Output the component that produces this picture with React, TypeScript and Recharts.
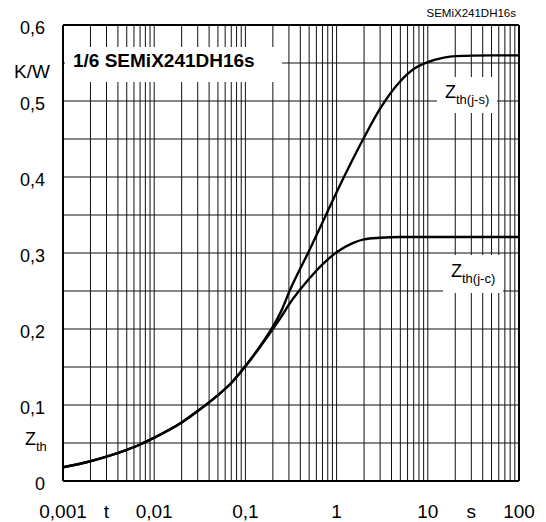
import React from "react";
import { LineChart, Line, XAxis, YAxis, CartesianGrid, ReferenceLine } from "recharts";

// pulse duration t in s
const tValues = [
  0.001, 0.002, 0.003, 0.005, 0.007, 0.01, 0.02, 0.03, 0.05, 0.07, 0.1, 0.15, 0.2, 0.25, 0.3, 0.5, 0.7, 1, 1.5, 2,
  3, 5, 7, 10, 15, 20, 50, 100,
];
// Zth(j-c) in K/W
const zthJC = [
  0.018, 0.026, 0.032, 0.041, 0.048, 0.057, 0.077, 0.092, 0.113, 0.129, 0.151, 0.179, 0.2, 0.217, 0.232, 0.266,
  0.285, 0.301, 0.313, 0.318, 0.32, 0.321, 0.321, 0.321, 0.321, 0.321, 0.321, 0.321,
];
// Zth(j-s) in K/W
const zthJS = [
  0.018, 0.026, 0.032, 0.041, 0.048, 0.057, 0.077, 0.092, 0.113, 0.129, 0.151, 0.18, 0.203, 0.225, 0.248, 0.303,
  0.34, 0.38, 0.423, 0.452, 0.49, 0.526, 0.542, 0.551, 0.557, 0.559, 0.56, 0.56,
];

const xTicks = [
  0.001, 0.002, 0.003, 0.004, 0.005, 0.006, 0.007, 0.008, 0.009,
  0.01, 0.02, 0.03, 0.04, 0.05, 0.06, 0.07, 0.08, 0.09,
  0.1, 0.2, 0.3, 0.4, 0.5, 0.6, 0.7, 0.8, 0.9,
  1, 2, 3, 4, 5, 6, 7, 8, 9,
  10, 20, 30, 40, 50, 60, 70, 80, 90,
  100,
];
const xLabels: Record<string, string> = {
  "0.001": "0,001",
  "0.003": "t",
  "0.01": "0,01",
  "0.1": "0,1",
  "1": "1",
  "10": "10",
  "30": "s",
  "100": "100",
};

const yTicks = [0, 0.05, 0.1, 0.15, 0.2, 0.25, 0.3, 0.35, 0.4, 0.45, 0.5, 0.55, 0.6];
const yLabels: Record<string, string> = {
  "0": "0",
  "0.1": "0,1",
  "0.2": "0,2",
  "0.3": "0,3",
  "0.4": "0,4",
  "0.5": "0,5",
  "0.6": "0,6",
};

const data = tValues.map((t, i) => ({ t, jc: zthJC[i], js: zthJS[i] }));

const FONT = "'Liberation Sans', Arial, sans-serif";

function XTick(props: any) {
  const { x, y, payload } = props;
  const label = xLabels[String(payload.value)];
  if (!label) return null;
  return (
    <text x={x} y={y} dy="0.72em" textAnchor="middle" fontSize={19} fontFamily={FONT} fill="#000">
      {label}
    </text>
  );
}

function YTick(props: any) {
  const { x, y, payload } = props;
  const v = String(payload.value);
  if (v === "0.55") {
    return (
      <text x={x + 5} y={y + 8} dy="0.36em" textAnchor="end" fontSize={19} fontFamily={FONT} fill="#000">
        K/W
      </text>
    );
  }
  if (v === "0.05") {
    return (
      <text x={x - 20} y={y + 2} fontSize={18} fontFamily={FONT} fill="#000">
        Z
        <tspan fontSize={13} dy={6}>
          th
        </tspan>
      </text>
    );
  }
  const label = yLabels[v];
  if (!label) return null;
  return (
    <text x={x} y={y + 3} dy="0.36em" textAnchor="end" fontSize={18} fontFamily={FONT} fill="#000">
      {label}
    </text>
  );
}

export default function App() {
  return (
    <div style={{ position: "absolute", left: 0, top: 0, width: 546, height: 522, background: "#fff" }}>
      <LineChart width={546} height={522} data={data} margin={{ top: 25, right: 27, bottom: 0, left: 0 }}>
        <CartesianGrid stroke="#111" strokeWidth={1} />
        <XAxis
          dataKey="t"
          type="number"
          scale="log"
          domain={[0.001, 100]}
          ticks={xTicks}
          allowDataOverflow
          axisLine={false}
          tickLine={false}
          tickSize={0}
          tickMargin={23}
          height={41}
          interval={0}
          tick={<XTick />}
        />
        <YAxis
          type="number"
          domain={[0, 0.6]}
          ticks={yTicks}
          axisLine={false}
          tickLine={false}
          tickSize={0}
          tickMargin={18}
          width={63}
          interval={0}
          tick={<YTick />}
        />
        <ReferenceLine x={0.001} stroke="#000" strokeWidth={2} />
        <ReferenceLine x={100} stroke="#000" strokeWidth={2} />
        <ReferenceLine y={0} stroke="#000" strokeWidth={2} />
        <ReferenceLine y={0.6} stroke="#000" strokeWidth={2} />
        <Line
          type="monotone"
          dataKey="jc"
          stroke="#000"
          strokeWidth={2.4}
          dot={false}
          isAnimationActive={false}
        />
        <Line
          type="monotone"
          dataKey="js"
          stroke="#000"
          strokeWidth={2.4}
          dot={false}
          isAnimationActive={false}
        />
      </LineChart>
      <svg
        width={546}
        height={522}
        style={{ position: "absolute", left: 0, top: 0, pointerEvents: "none" }}
        fontFamily={FONT}
      >
        <text x={516} y={17} textAnchor="end" fontSize={11.5} fill="#000">
          SEMiX241DH16s
        </text>
        <rect x={65} y={47} width={217} height={35} fill="#fff" />
        <text x={73} y={67} fontSize={19} fontWeight="bold" fill="#000">
          1/6 SEMiX241DH16s
        </text>
        <rect x={437} y={77} width={60} height={36} fill="#fff" />
        <text x={445} y={98} fontSize={18} fill="#000">
          Z
          <tspan fontSize={13} dy={6}>
            th(j-s)
          </tspan>
        </text>
        <rect x={443} y={255} width={60} height={38} fill="#fff" />
        <text x={451} y={277} fontSize={18} fill="#000">
          Z
          <tspan fontSize={13} dy={6}>
            th(j-c)
          </tspan>
        </text>
      </svg>
    </div>
  );
}
